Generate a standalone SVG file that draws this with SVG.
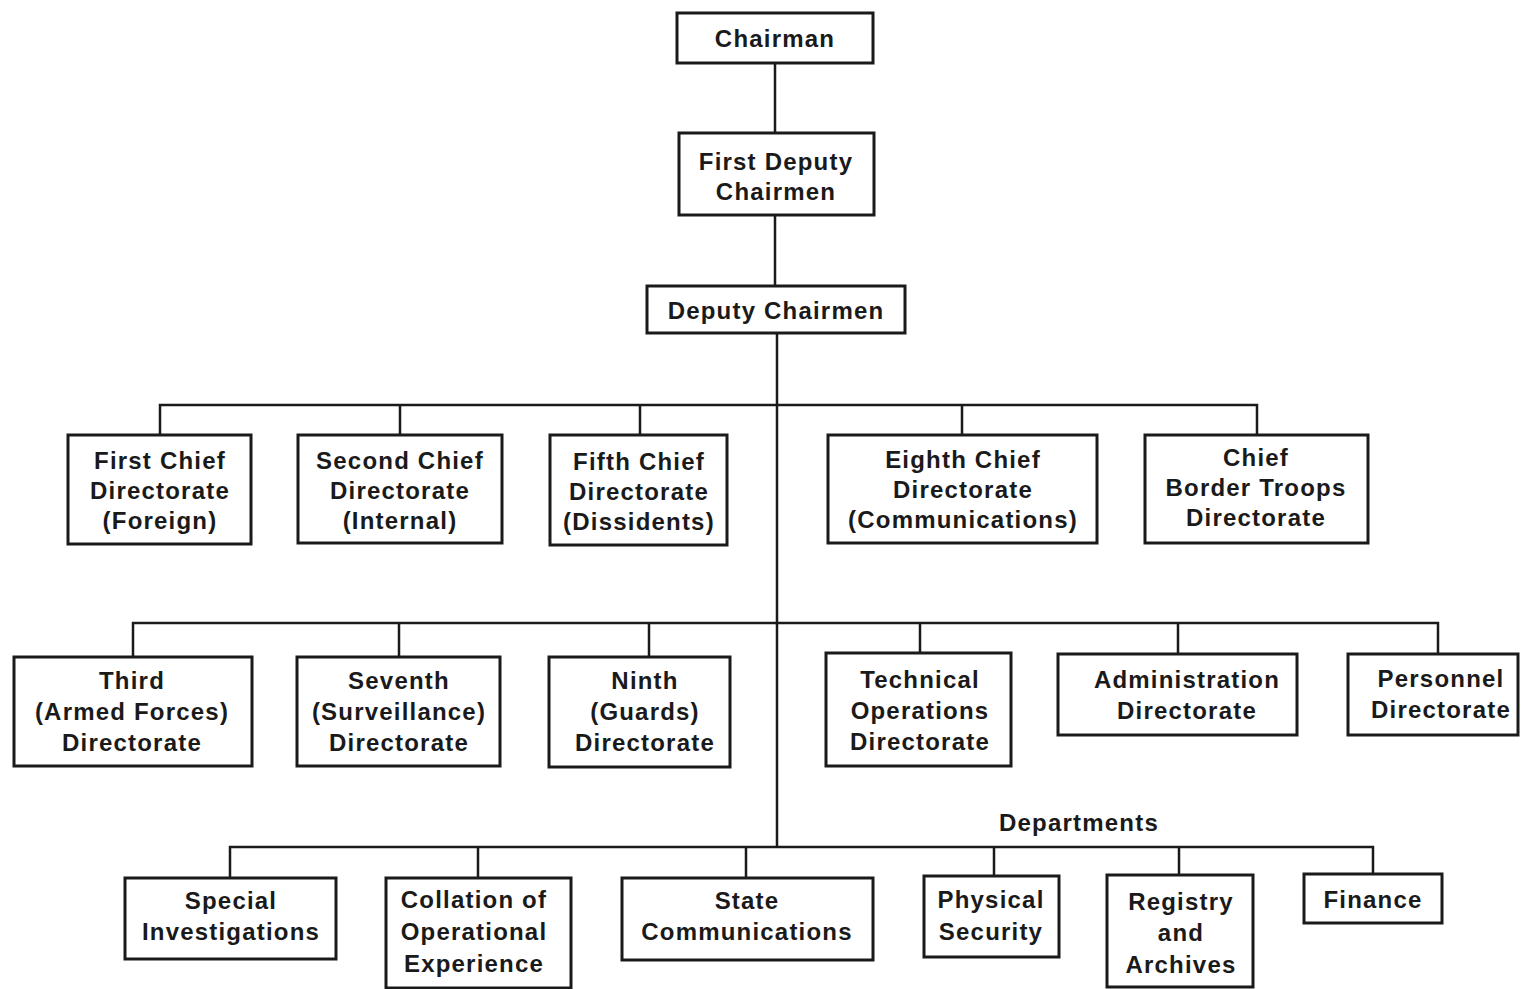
<svg xmlns="http://www.w3.org/2000/svg" width="1522" height="989" viewBox="0 0 1522 989">
<style>
.b{fill:#fff;stroke:#1a1a1a;stroke-width:3}
.t{font-family:"Liberation Sans",Arial,sans-serif;font-weight:bold;font-size:24px;letter-spacing:1.2px;fill:#1a1a1a;text-anchor:middle}
.c{fill:none;stroke:#1a1a1a;stroke-width:2.5}
</style>
<rect width="1522" height="989" fill="#fff"/>
<g id="connectors">
<path class="c" d="M775 63V133M775 215V286M777 333V847"/>
<path class="c" d="M160 435V405H1257V435M400 405V435M640 405V435M962 405V435"/>
<path class="c" d="M133 657V623H1438V654M399 623V657M649 623V657M920 623V653M1178 623V654"/>
<path class="c" d="M230 878V847H1373V874M478 847V878M746 847V878M994 847V876M1179 847V875"/>
</g>
<g id="chairman"><rect class="b" x="677" y="13" width="196" height="50"/><text class="t" x="775" y="47">Chairman</text></g>
<g id="first-deputy"><rect class="b" x="679" y="133" width="195" height="82"/><text class="t" x="776" y="170">First Deputy</text><text class="t" x="776" y="200">Chairmen</text></g>
<g id="deputy"><rect class="b" x="647" y="286" width="258" height="47"/><text class="t" x="776" y="319">Deputy Chairmen</text></g>
<g id="first-chief"><rect class="b" x="68" y="435" width="183" height="109"/><text class="t" x="160" y="469">First Chief</text><text class="t" x="160" y="499">Directorate</text><text class="t" x="160" y="529">(Foreign)</text></g>
<g id="second-chief"><rect class="b" x="298" y="435" width="204" height="108"/><text class="t" x="400" y="469">Second Chief</text><text class="t" x="400" y="499">Directorate</text><text class="t" x="400" y="529">(Internal)</text></g>
<g id="fifth-chief"><rect class="b" x="550" y="435" width="177" height="110"/><text class="t" x="639" y="470">Fifth Chief</text><text class="t" x="639" y="500">Directorate</text><text class="t" x="639" y="530">(Dissidents)</text></g>
<g id="eighth-chief"><rect class="b" x="828" y="435" width="269" height="108"/><text class="t" x="963" y="468">Eighth Chief</text><text class="t" x="963" y="498">Directorate</text><text class="t" x="963" y="528">(Communications)</text></g>
<g id="border-troops"><rect class="b" x="1145" y="435" width="223" height="108"/><text class="t" x="1256" y="466">Chief</text><text class="t" x="1256" y="496">Border Troops</text><text class="t" x="1256" y="526">Directorate</text></g>
<g id="third"><rect class="b" x="14" y="657" width="238" height="109"/><text class="t" x="132" y="689">Third</text><text class="t" x="132" y="720">(Armed Forces)</text><text class="t" x="132" y="751">Directorate</text></g>
<g id="seventh"><rect class="b" x="297" y="657" width="203" height="109"/><text class="t" x="399" y="689">Seventh</text><text class="t" x="399" y="720">(Surveillance)</text><text class="t" x="399" y="751">Directorate</text></g>
<g id="ninth"><rect class="b" x="549" y="657" width="181" height="110"/><text class="t" x="645" y="689">Ninth</text><text class="t" x="645" y="720">(Guards)</text><text class="t" x="645" y="751">Directorate</text></g>
<g id="technical"><rect class="b" x="826" y="653" width="185" height="113"/><text class="t" x="920" y="688">Technical</text><text class="t" x="920" y="719">Operations</text><text class="t" x="920" y="750">Directorate</text></g>
<g id="administration"><rect class="b" x="1058" y="654" width="239" height="81"/><text class="t" x="1187" y="688">Administration</text><text class="t" x="1187" y="719">Directorate</text></g>
<g id="personnel"><rect class="b" x="1348" y="654" width="170" height="81"/><text class="t" x="1441" y="687">Personnel</text><text class="t" x="1441" y="718">Directorate</text></g>
<text class="t" x="1079" y="831">Departments</text>
<g id="special"><rect class="b" x="125" y="878" width="211" height="81"/><text class="t" x="231" y="909">Special</text><text class="t" x="231" y="940">Investigations</text></g>
<g id="collation"><rect class="b" x="386" y="878" width="185" height="110"/><text class="t" x="474" y="908">Collation of</text><text class="t" x="474" y="940">Operational</text><text class="t" x="474" y="972">Experience</text></g>
<g id="state-comm"><rect class="b" x="622" y="878" width="251" height="82"/><text class="t" x="747" y="909">State</text><text class="t" x="747" y="940">Communications</text></g>
<g id="physical"><rect class="b" x="924" y="876" width="135" height="81"/><text class="t" x="991" y="908">Physical</text><text class="t" x="991" y="940">Security</text></g>
<g id="registry"><rect class="b" x="1107" y="875" width="146" height="112"/><text class="t" x="1181" y="910">Registry</text><text class="t" x="1181" y="941">and</text><text class="t" x="1181" y="973">Archives</text></g>
<g id="finance"><rect class="b" x="1304" y="874" width="138" height="49"/><text class="t" x="1373" y="908">Finance</text></g>
</svg>
